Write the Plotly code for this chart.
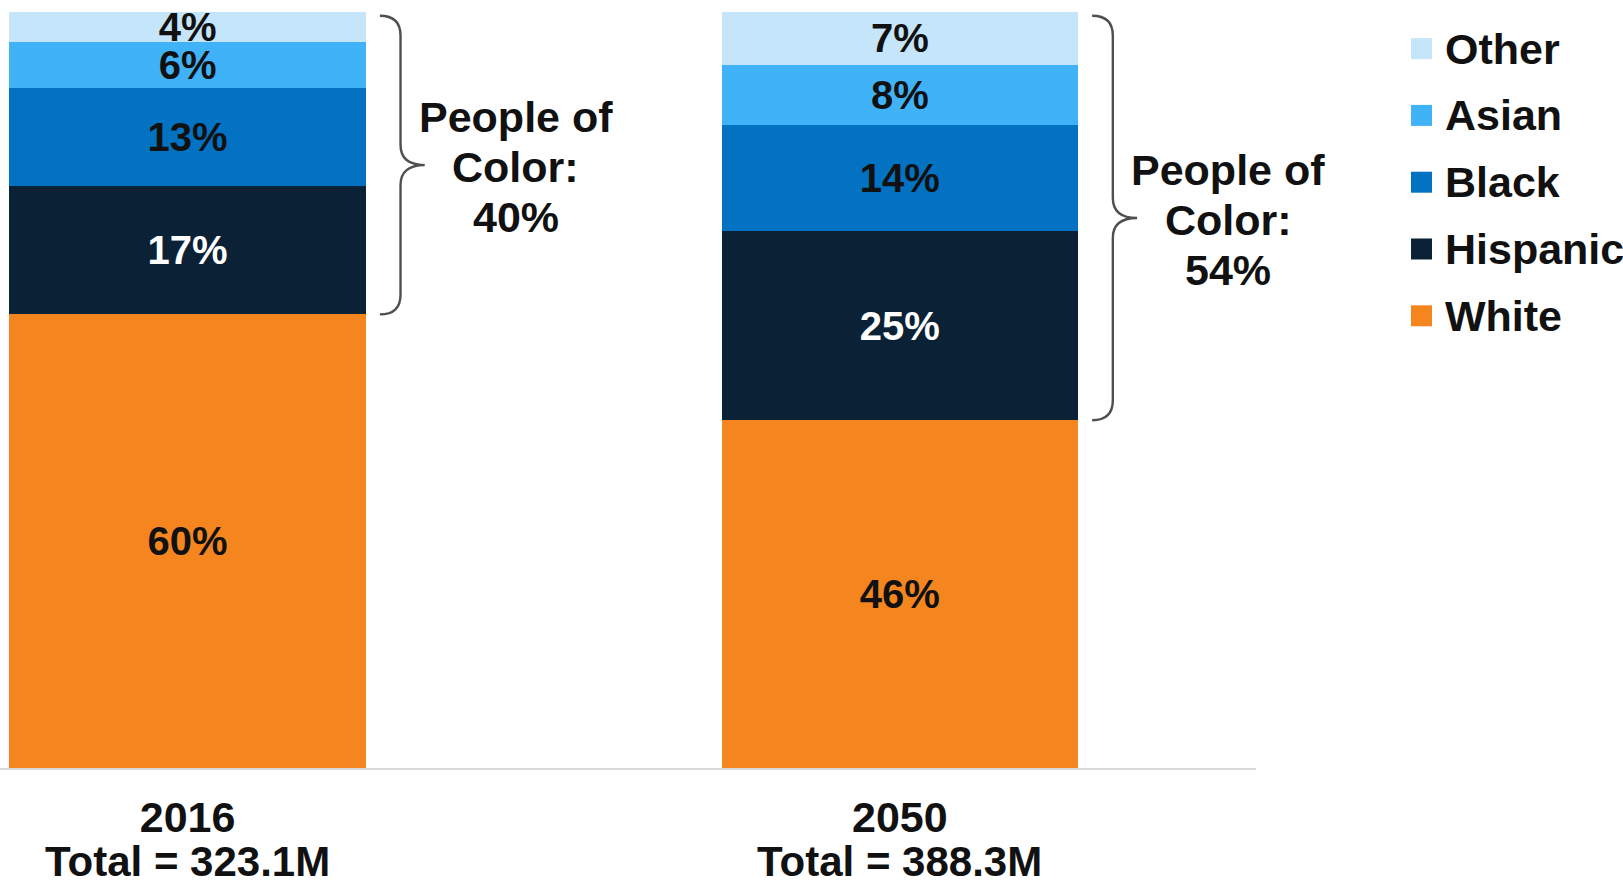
import plotly.graph_objects as go

# ---- data ----
categories = ["2016", "2050"]
totals = ["323.1M", "388.3M"]
series_names = ["White", "Hispanic", "Black", "Asian", "Other"]
white = [60, 46]
hispanic = [17, 25]
black = [13, 14]
asian = [6, 8]
other = [4, 7]
colors = ["#f5861f", "#0b2135", "#0472c2", "#40b2f8", "#c5e5fb"]
label_colors = ["#111111", "#ffffff", "#111111", "#111111", "#111111"]

W, H = 1623, 884
ML, MR, MT, MB = 0, 367, 12, 116
PW, PH = W - ML - MR, H - MT - MB
FONT = "Liberation Sans, Arial, sans-serif"
FS_BAR = 40
FS = 43
LINE = 50  # px between text lines

values = [white, hispanic, black, asian, other]
xs = list(range(len(categories)))

fig = go.Figure()
for name, vals, col, tcol in zip(series_names, values, colors, label_colors):
    fig.add_trace(go.Bar(
        x=xs, y=vals, name=name, width=0.5,
        marker=dict(color=col, line=dict(width=0)),
        text=[f"{v}%" for v in vals], textposition="inside",
        insidetextanchor="middle", textangle=0, constraintext="none",
        textfont=dict(family=FONT, size=FS_BAR, color=tcol, weight="bold"),
        cliponaxis=False, showlegend=False, hoverinfo="skip",
    ))

# ---- braces and "People of Color" annotations ----
px_per_unit_y = PH / 100.0
ry = 20 / px_per_unit_y
line_u = LINE / px_per_unit_y
shapes = []
annotations = []
for i in xs:
    edge = i + 0.25
    x0, x1, x2 = edge + 0.020, edge + 0.049, edge + 0.083
    ytop = 99.5
    ybot = white[i]
    ymid = (ytop + ybot) / 2
    path = (f"M {x0},{ytop} Q {x1},{ytop} {x1},{ytop - ry} "
            f"L {x1},{ymid + ry} Q {x1},{ymid} {x2},{ymid} "
            f"Q {x1},{ymid} {x1},{ymid - ry} "
            f"L {x1},{ybot + ry} Q {x1},{ybot} {x0},{ybot}")
    shapes.append(dict(type="path", path=path, xref="x", yref="y",
                       line=dict(color="#4f4f4f", width=2.4)))
    poc = 100 - white[i]
    for j, txt in enumerate(["People of", "Color:", f"{poc}%"]):
        annotations.append(dict(
            x=x2 + 0.128, y=ymid - 0.3 + (1 - j) * line_u, xref="x", yref="y",
            showarrow=False, text=txt, align="center",
            xanchor="center", yanchor="middle",
            font=dict(family=FONT, size=FS, color="#111111", weight="bold")))
    # total line below the year tick label
    annotations.append(dict(
        x=i, y=(H - MB - 861) / PH, xref="x", yref="paper", showarrow=False,
        text=f"Total = {totals[i]}", xanchor="center", yanchor="middle",
        font=dict(family=FONT, size=42, color="#111111", weight="bold")))

# ---- legend (drawn top to bottom: Other ... White) ----
leg_y0, leg_dy = 48.6, 66.8
sq = 21
for k, (name, col) in enumerate(zip(series_names[::-1], colors[::-1])):
    cy = leg_y0 + k * leg_dy
    shapes.append(dict(type="rect", xref="paper", yref="paper",
                       x0=(1411 - ML) / PW, x1=(1411 + sq - ML) / PW,
                       y0=(H - MB - (cy - sq / 2)) / PH, y1=(H - MB - (cy + sq / 2)) / PH,
                       fillcolor=col, line=dict(width=0)))
    annotations.append(dict(
        x=(1443 - ML) / PW, y=(H - MB - cy) / PH, xref="paper", yref="paper",
        showarrow=False, text=name, xanchor="left", yanchor="middle",
        font=dict(family=FONT, size=FS, color="#111111", weight="bold")))

fig.update_layout(
    barmode="stack",
    width=W, height=H,
    margin=dict(l=ML, r=MR, t=MT, b=MB, pad=0, autoexpand=False),
    paper_bgcolor="white", plot_bgcolor="white",
    shapes=shapes, annotations=annotations,
    xaxis=dict(range=[-0.2633, 1.5], tickvals=xs, ticktext=categories,
               showline=True, linecolor="#d9d9d9", linewidth=2, automargin=False,
               showgrid=False, zeroline=False, ticks="", ticklabelstandoff=10,
               tickfont=dict(family=FONT, size=FS, color="#111111", weight="bold"),
               fixedrange=True),
    yaxis=dict(range=[0, 100], visible=False, showgrid=False, fixedrange=True,
               automargin=False),
    showlegend=False,
)

fig.write_html("out.html", config={"displayModeBar": False})
